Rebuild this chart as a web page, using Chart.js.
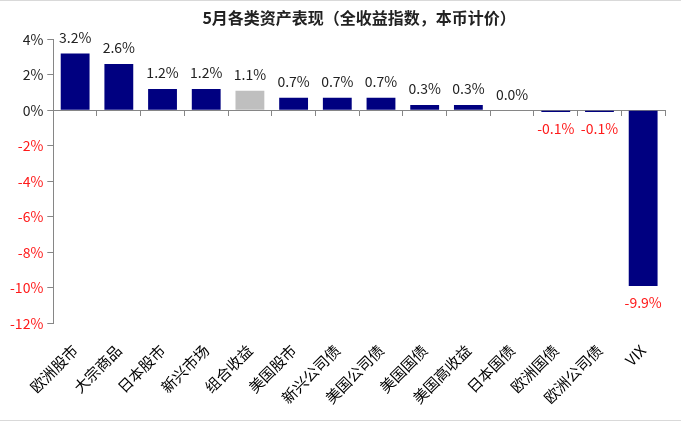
<!DOCTYPE html>
<html>
<head>
<meta charset="utf-8">
<script src="https://cdn.jsdelivr.net/npm/chart.js@4"></script>
<style>
  body { margin: 0; background: #fff; }
  #wrap { width: 681px; height: 421px; box-sizing: border-box; border-top: 1px solid #d9d9d9; border-bottom: 1px solid #d9d9d9; }
</style>
</head>
<body>
<div id="wrap"><canvas id="barChart"></canvas></div>
<script>
// 5月各类资产表现
var categories = ['欧洲股市', '大宗商品', '日本股市', '新兴市场', '组合收益', '美国股市', '新兴公司债',
    '美国公司债', '美国国债', '美国高收益', '日本国债', '欧洲国债', '欧洲公司债', 'VIX'];
var returns = [3.2, 2.6, 1.2, 1.2, 1.1, 0.7, 0.7, 0.7, 0.3, 0.3, 0.0, -0.1, -0.1, -9.9];
var yTicks = [4, 2, 0, -2, -4, -6, -8, -10, -12];

var FONT = '"Noto Sans CJK SC", "Noto Sans", sans-serif';

// 组合收益 is grey, the rest navy
var barColors = categories.map(function (c) {
    return c === '组合收益' ? '#bfbfbf' : '#000080';
});

// value labels above / below each bar
var barLabels = {
    id: 'barLabels',
    afterDatasetsDraw: function (chart) {
        var ctx = chart.ctx;
        var meta = chart.getDatasetMeta(0);
        ctx.save();
        ctx.font = '14px ' + FONT;
        ctx.textAlign = 'center';
        ctx.textBaseline = 'middle';
        meta.data.forEach(function (bar, i) {
            var v = returns[i];
            var txt = v.toFixed(1) + '%';
            if (v < 0) {
                ctx.fillStyle = '#ff1a1a';
                ctx.fillText(txt, bar.x, bar.y + 17);
            } else {
                ctx.fillStyle = '#222';
                ctx.fillText(txt, bar.x, bar.y - 16);
            }
        });
        ctx.restore();
    }
};

var data = {
    labels: categories,
    datasets: [{
        data: returns,
        backgroundColor: barColors,
        barPercentage: 0.66,
        categoryPercentage: 1,
    }]
};

var barConfig = {
    type: 'bar',
    data: data,
    options: {
        responsive: true,
        maintainAspectRatio: false,
        animation: false,
        layout: { padding: { left: 6, right: 16, top: 0, bottom: 3 } },
        plugins: {
            legend: { display: false },
            tooltip: { enabled: false },
            title: {
                display: true,
                fullSize: false,
                text: '5月各类资产表现（全收益指数，本币计价）',
                color: '#222',
                font: { family: FONT, size: 16, weight: 'bold' },
                padding: { top: 7, bottom: 12 }
            }
        },
        scales: {
            x: {
                grid: { display: false },
                border: { display: false },
                ticks: {
                    color: '#000',
                    font: { family: FONT, size: 15 },
                    maxRotation: 45,
                    minRotation: 45,
                    autoSkip: false,
                    padding: 10
                }
            },
            // zero line with tick marks between categories
            x0: {
                type: 'category',
                position: { y: 0 },
                offset: true,
                grid: { offset: true, drawOnChartArea: false, drawTicks: true, tickLength: 5, color: '#868686' },
                border: { display: true, color: '#868686' },
                ticks: { display: false }
            },
            y: {
                min: -12,
                max: 4,
                afterBuildTicks: function (axis) {
                    axis.ticks = yTicks.map(function (v) { return { value: v }; });
                },
                grid: { drawOnChartArea: false, drawTicks: true, tickLength: 6, color: '#868686' },
                border: { display: true, color: '#868686' },
                ticks: {
                    font: { family: FONT, size: 14 },
                    padding: 4,
                    color: function (c) { return c.tick.value < 0 ? '#ff1a1a' : '#222'; },
                    callback: function (v) { return v + '%'; }
                }
            }
        }
    },
    plugins: [barLabels]
};

var barChart = new Chart(document.getElementById('barChart'), barConfig);
</script>
</body>
</html>
